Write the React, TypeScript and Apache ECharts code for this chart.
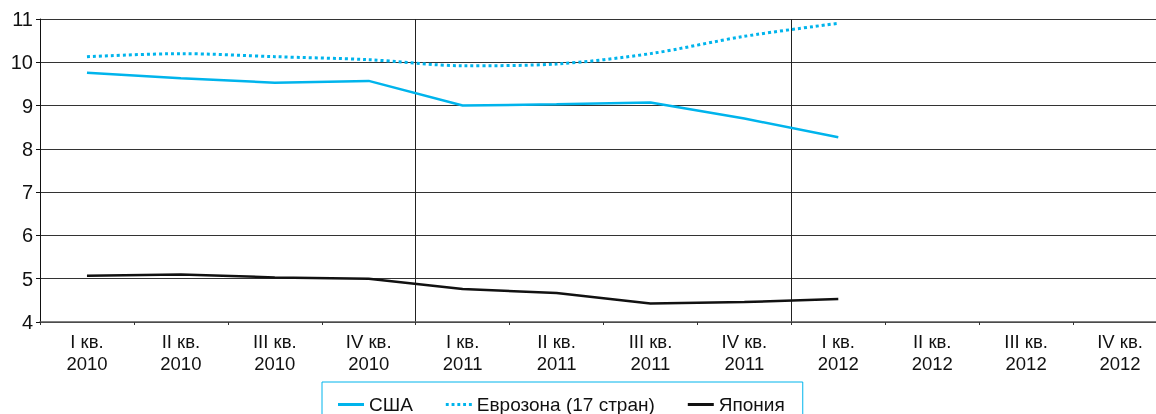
import React, { useEffect, useRef } from "react";
import * as echarts from "echarts";

const categories = [
  "I кв.\n2010", "II кв.\n2010", "III кв.\n2010", "IV кв.\n2010",
  "I кв.\n2011", "II кв.\n2011", "III кв.\n2011", "IV кв.\n2011",
  "I кв.\n2012", "II кв.\n2012", "III кв.\n2012", "IV кв.\n2012",
];
const usa = [9.76, 9.63, 9.53, 9.57, 9.0, 9.03, 9.07, 8.7, 8.27];
const euro = [10.13, 10.2, 10.13, 10.06, 9.92, 9.96, 10.2, 10.6, 10.9];
const japan = [5.07, 5.1, 5.03, 5.0, 4.76, 4.67, 4.43, 4.46, 4.53];
const yTicks = { min: 4, max: 11, interval: 1 };

const CYAN = "#00b4ec";
const FONT = "'Liberation Sans', Arial, sans-serif";
const SOLID_ICON = "path://M0,0H26V3H0Z";
const DOT_ICON = "path://M0,0h3v3h-3zM6,0h3v3h-3zM12,0h3v3h-3zM18,0h3v3h-3zM24,0h3v3h-3z";

export default function App() {
  const ref = useRef<HTMLDivElement>(null);
  useEffect(() => {
    const chart = echarts.init(ref.current!, null, { renderer: "svg" });
    chart.setOption({
      animation: false,
      textStyle: { fontFamily: FONT, color: "#111" },
      grid: { left: 40, width: 1127, top: 19, height: 303, outerBoundsMode: "none", containLabel: false },
      xAxis: {
        type: "category",
        data: categories,
        boundaryGap: true,
        axisLine: { lineStyle: { color: "#555", width: 1.5 } },
        axisTick: { show: true, length: 3, lineStyle: { color: "#333" } },
        axisLabel: { fontSize: 18.5, color: "#111", lineHeight: 22, margin: 8, fontFamily: FONT },
        splitLine: {
          show: true,
          interval: (i: number) => i === 4 || i === 8,
          lineStyle: { color: "#222", width: 1 },
        },
      },
      yAxis: {
        type: "value",
        min: yTicks.min,
        max: yTicks.max,
        interval: yTicks.interval,
        axisLine: { show: true, lineStyle: { color: "#111", width: 1 } },
        axisTick: { show: true, length: 4, lineStyle: { color: "#111" } },
        axisLabel: { fontSize: 20, color: "#111", margin: 7, fontFamily: FONT },
        splitLine: { show: true, lineStyle: { color: "#333", width: 1.2 } },
      },
      legend: {
        left: 322,
        top: 382,
        padding: [13, 18, 20, 16],
        borderColor: CYAN,
        borderWidth: 1,
        itemWidth: 26,
        itemHeight: 3,
        itemGap: 33,
        textStyle: { fontSize: 19, color: "#111", fontFamily: FONT },
        itemStyle: { borderWidth: 0 },
        data: [
          { name: "США", icon: SOLID_ICON, itemStyle: { color: CYAN } },
          { name: "Еврозона (17 стран)", icon: DOT_ICON, itemStyle: { color: CYAN } },
          { name: "Япония", icon: SOLID_ICON, itemStyle: { color: "#111" } },
        ],
      },
      series: [
        {
          name: "США",
          type: "line",
          data: usa,
          symbol: "none",
          lineStyle: { color: CYAN, width: 2.5 },
          itemStyle: { color: CYAN },
        },
        {
          name: "Еврозона (17 стран)",
          type: "line",
          data: euro,
          symbol: "none",
          smooth: 0.3,
          lineStyle: { color: CYAN, width: 3, type: [3, 3] },
          itemStyle: { color: CYAN },
        },
        {
          name: "Япония",
          type: "line",
          data: japan,
          symbol: "none",
          lineStyle: { color: "#111", width: 2.5 },
          itemStyle: { color: "#111" },
        },
      ],
    });
    return () => chart.dispose();
  }, []);
  return <div ref={ref} style={{ position: "fixed", left: 0, top: 0, width: 1156, height: 414 }} />;
}
